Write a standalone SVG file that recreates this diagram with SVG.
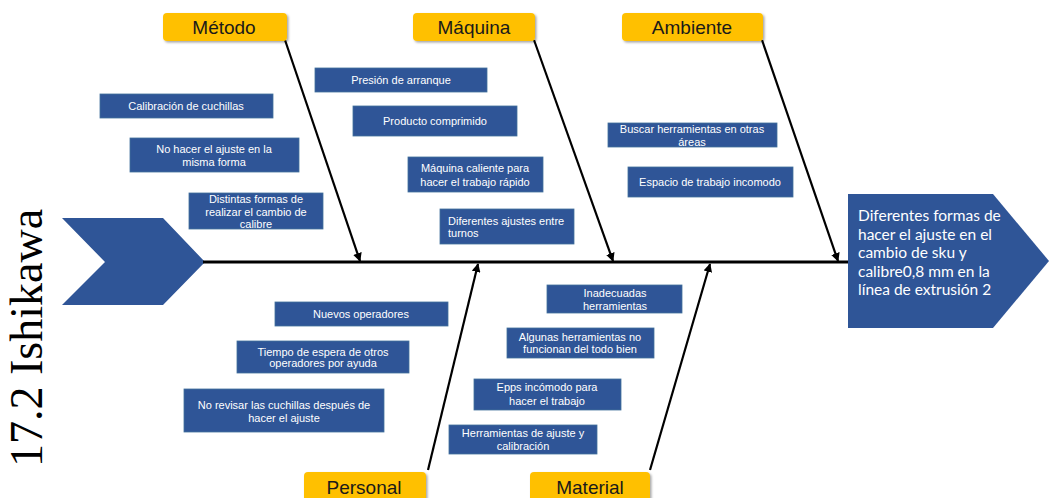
<svg xmlns="http://www.w3.org/2000/svg" width="1049" height="498" viewBox="0 0 1049 498">
<defs>
<marker id="ah" viewBox="0 0 10 10" refX="9" refY="5" markerWidth="4" markerHeight="4" markerUnits="strokeWidth" orient="auto">
<path d="M0,0 L10,5 L0,10 z" fill="#000"/>
</marker>
<filter id="sh" x="-10%" y="-20%" width="125%" height="150%">
<feDropShadow dx="1.5" dy="1.5" stdDeviation="1.2" flood-color="#000" flood-opacity="0.35"/>
</filter>
</defs>
<style>
.cat{fill:#FFC000;filter:url(#sh)}
.catt{font-family:"Liberation Sans",Arial,sans-serif;font-size:19px;fill:#1a1a1a;text-anchor:middle}
.cause{fill:#2F5597;stroke:#41719C;stroke-width:0.8}
.ct{font-family:"Liberation Sans",Arial,sans-serif;font-size:11px;fill:#fff;text-anchor:middle}
.ctl{font-family:"Liberation Sans",Arial,sans-serif;font-size:11px;fill:#fff;text-anchor:start}
.bone{stroke:#000;stroke-width:2.2;fill:none;marker-end:url(#ah)}
.spine{stroke:#000;stroke-width:3;fill:none}
.head{font-family:Lato,"Noto Sans",sans-serif;font-size:15.5px;fill:#fff}
</style>
<rect width="1049" height="498" fill="#fff"/>

<text transform="translate(42,467) rotate(-90)" font-family="Liberation Serif,serif" font-size="46" fill="#000">17.2 Ishikawa</text>

<g id="tail">
<polygon points="62,218 163,218 205,262 163,305 62,305 105,262" fill="#2F5597"/>
</g>

<g id="connectors">
<line class="spine" x1="203" y1="262" x2="849" y2="262"/>
<line class="bone" x1="285" y1="40" x2="360" y2="261"/>
<line class="bone" x1="534" y1="40" x2="613" y2="261"/>
<line class="bone" x1="762" y1="40" x2="838" y2="261"/>
<line class="bone" x1="428" y1="470" x2="478" y2="264"/>
<line class="bone" x1="650" y1="470" x2="710" y2="264"/>
</g>

<g id="head">
<polygon points="848,194 993,194 1049,261 993,328 848,328" fill="#2F5597"/>
<text class="head" x="858" y="221">Diferentes formas de</text>
<text class="head" x="858" y="239.5">hacer el ajuste en el</text>
<text class="head" x="858" y="258">cambio de sku y</text>
<text class="head" x="858" y="276.5">calibre0,8 mm en la</text>
<text class="head" x="858" y="295">línea de extrusión 2</text>
</g>

<g id="cat-metodo"><rect class="cat" x="163" y="13" width="124" height="28" rx="4"/><text class="catt" x="224" y="34">Método</text></g>
<g id="cat-maquina"><rect class="cat" x="413" y="13" width="122" height="28" rx="4"/><text class="catt" x="474" y="34">Máquina</text></g>
<g id="cat-ambiente"><rect class="cat" x="622" y="13" width="141" height="28" rx="4"/><text class="catt" x="692" y="34">Ambiente</text></g>
<g id="cat-personal"><rect class="cat" x="304" y="472" width="122" height="32" rx="4"/><text class="catt" x="364" y="494">Personal</text></g>
<g id="cat-material"><rect class="cat" x="530" y="472" width="120" height="32" rx="4"/><text class="catt" x="590" y="494">Material</text></g>

<g id="c1"><rect class="cause" x="100" y="94" width="173" height="24"/><text class="ct" x="186" y="110">Calibración de cuchillas</text></g>
<g id="c2"><rect class="cause" x="130" y="138" width="169" height="34"/><text class="ct" x="214" y="153">No hacer el ajuste en la</text><text class="ct" x="214" y="166">misma forma</text></g>
<g id="c3"><rect class="cause" x="189" y="193" width="134" height="36"/><text class="ct" x="256" y="203">Distintas formas de</text><text class="ct" x="256" y="216">realizar el cambio de</text><text class="ct" x="256" y="228">calibre</text></g>

<g id="c4"><rect class="cause" x="315" y="68" width="172" height="24"/><text class="ct" x="401" y="84">Presión de arranque</text></g>
<g id="c5"><rect class="cause" x="353" y="106" width="164" height="30"/><text class="ct" x="435" y="125">Producto comprimido</text></g>
<g id="c6"><rect class="cause" x="408" y="157" width="135" height="35"/><text class="ct" x="475" y="172">Máquina caliente para</text><text class="ct" x="475" y="186">hacer el trabajo rápido</text></g>
<g id="c7"><rect class="cause" x="440" y="209" width="134" height="35"/><text class="ctl" x="448" y="225">Diferentes ajustes entre</text><text class="ctl" x="448" y="237">turnos</text></g>

<g id="c8"><rect class="cause" x="608" y="123" width="169" height="24"/><text class="ct" x="692" y="133">Buscar herramientas en otras</text><text class="ct" x="692" y="146">áreas</text></g>
<g id="c9"><rect class="cause" x="628" y="167" width="165" height="30"/><text class="ct" x="710" y="186">Espacio de trabajo incomodo</text></g>

<g id="c10"><rect class="cause" x="275" y="302" width="173" height="24"/><text class="ct" x="361" y="318">Nuevos operadores</text></g>
<g id="c11"><rect class="cause" x="237" y="341" width="172" height="32"/><text class="ct" x="323" y="356">Tiempo de espera de otros</text><text class="ct" x="323" y="367">operadores por ayuda</text></g>
<g id="c12"><rect class="cause" x="184" y="389" width="200" height="43"/><text class="ct" x="284" y="409">No revisar las cuchillas después de</text><text class="ct" x="284" y="422">hacer el ajuste</text></g>

<g id="c13"><rect class="cause" x="547" y="285" width="135" height="28"/><text class="ct" x="615" y="297">Inadecuadas</text><text class="ct" x="615" y="310">herramientas</text></g>
<g id="c14"><rect class="cause" x="507" y="328" width="147" height="30"/><text class="ct" x="580" y="341">Algunas herramientas no</text><text class="ct" x="580" y="353">funcionan del todo bien</text></g>
<g id="c15"><rect class="cause" x="474" y="379" width="147" height="31"/><text class="ct" x="547" y="391">Epps incómodo para</text><text class="ct" x="547" y="405">hacer el trabajo</text></g>
<g id="c16"><rect class="cause" x="449" y="425" width="148" height="29"/><text class="ct" x="523" y="437">Herramientas de ajuste y</text><text class="ct" x="523" y="450">calibración</text></g>
</svg>
